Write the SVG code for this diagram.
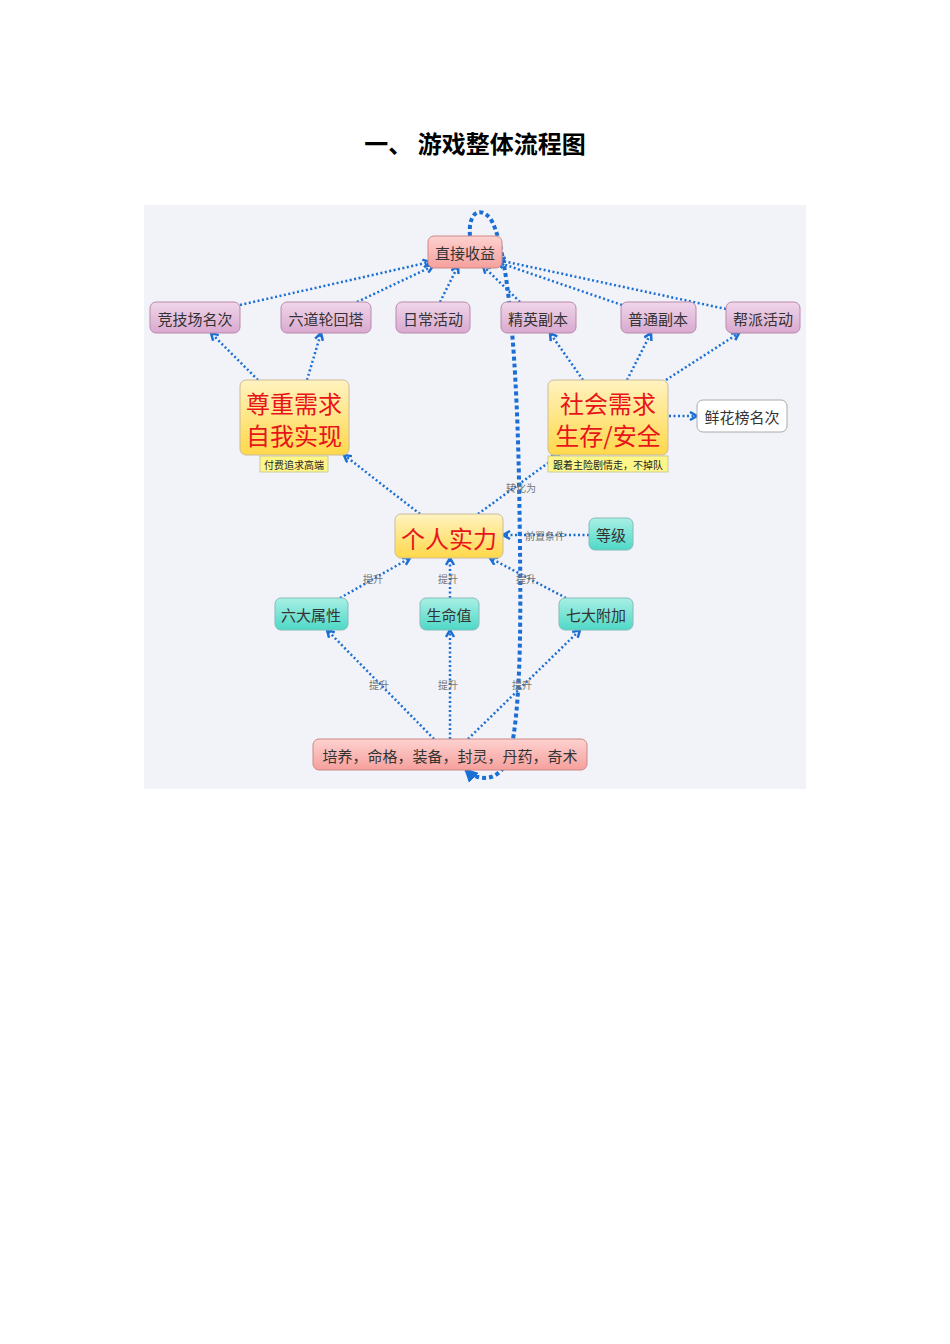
<svg xmlns="http://www.w3.org/2000/svg" width="950" height="1344" viewBox="0 0 950 1344">
<style>
text{font-family:"Noto Sans CJK SC","Noto Sans",sans-serif}
.n{stroke-width:1;rx:6}
.t{font-size:15px;fill:#333;text-anchor:middle;dominant-baseline:central}
.big{font-size:24px;fill:#e8141a;text-anchor:middle;dominant-baseline:central}
.lbl{font-size:10px;fill:#777;text-anchor:middle;dominant-baseline:central}
.note{font-size:10px;fill:#222;text-anchor:middle;dominant-baseline:central}
.e{fill:none;stroke:#1b6fd4;stroke-width:2.5;stroke-dasharray:2 2.5;marker-end:url(#ah)}
</style>
<defs>
<linearGradient id="pink" x1="0" y1="0" x2="0" y2="1"><stop offset="0" stop-color="#fdd2d0"/><stop offset="1" stop-color="#f6a09c"/></linearGradient>
<linearGradient id="purp" x1="0" y1="0" x2="0" y2="1"><stop offset="0" stop-color="#f0d6ea"/><stop offset="1" stop-color="#d8a9cf"/></linearGradient>
<linearGradient id="yel" x1="0" y1="0" x2="0" y2="1"><stop offset="0" stop-color="#fff3c0"/><stop offset="1" stop-color="#ffd84a"/></linearGradient>
<linearGradient id="teal" x1="0" y1="0" x2="0" y2="1"><stop offset="0" stop-color="#a8f0e4"/><stop offset="1" stop-color="#4fd8c6"/></linearGradient>
<marker id="ah" viewBox="0 0 10 10" refX="8" refY="5" markerWidth="4" markerHeight="4" orient="auto"><path d="M1,1 L8,5 L1,9" fill="none" stroke="#1b6fd4" stroke-width="2.5"/></marker>
<marker id="ahb" viewBox="0 0 10 10" refX="8" refY="5" markerWidth="3.5" markerHeight="3.5" orient="auto"><path d="M0,0 L10,5 L0,10 z" fill="#1b6fd4"/></marker>
</defs>
<rect width="950" height="1344" fill="#fff"/>
<text x="475" y="142" font-size="24" font-weight="bold" text-anchor="middle" dominant-baseline="central" fill="#000">一、   游戏整体流程图</text>
<rect x="144" y="205" width="662" height="584" fill="#f1f3f8"/>

<g id="connectors">
<path class="e" d="M240,305 L430,262"/>
<path class="e" d="M357,302 L433,266"/>
<path class="e" d="M440,302 L458,266"/>
<path class="e" d="M520,302 L483,266"/>
<path class="e" d="M622,305 L497,262"/>
<path class="e" d="M726,309 L498,260"/>
<path class="e" d="M258,380 L211,333"/>
<path class="e" d="M307,380 L321,333"/>
<path class="e" d="M583,380 L550,333"/>
<path class="e" d="M627,380 L651,333"/>
<path class="e" d="M666,380 L739,333"/>
<path class="e" d="M669,416 L697,416"/>
<path class="e" d="M420,514 L344,455"/>
<path class="e" d="M478,514 L559,455"/>
<path class="e" d="M589,535 L503,535"/>
<path class="e" d="M340,598 L410,558"/>
<path class="e" d="M450,598 L450,558"/>
<path class="e" d="M566,598 L490,558"/>
<path class="e" d="M434,739 L327,630"/>
<path class="e" d="M450,739 L450,630"/>
<path class="e" d="M468,739 L580,630"/>
<path d="M470,236 C468,215 478,205 490,218 C505,240 516,330 519,480 C521,600 522,690 512,745 C505,785 478,782 466,770" fill="none" stroke="#1b6fd4" stroke-width="4" stroke-dasharray="4 3" marker-end="url(#ahb)"/>
<text class="lbl" x="521" y="487">转化为</text>
<text class="lbl" x="545" y="535">前置条件</text>
<text class="lbl" x="373" y="578">提升</text>
<text class="lbl" x="448" y="578">提升</text>
<text class="lbl" x="526" y="578">提升</text>
<text class="lbl" x="379" y="684">提升</text>
<text class="lbl" x="448" y="684">提升</text>
<text class="lbl" x="522" y="684">提升</text>
</g>

<g id="n-direct"><rect class="n" x="428" y="236" width="74" height="32" fill="url(#pink)" stroke="#c88"/><text class="t" x="465" y="252">直接收益</text></g>
<g id="n-arena"><rect class="n" x="150" y="302" width="90" height="31" fill="url(#purp)" stroke="#b8a"/><text class="t" x="195" y="318">竞技场名次</text></g>
<g id="n-tower"><rect class="n" x="281" y="302" width="90" height="31" fill="url(#purp)" stroke="#b8a"/><text class="t" x="326" y="318">六道轮回塔</text></g>
<g id="n-daily"><rect class="n" x="396" y="302" width="74" height="31" fill="url(#purp)" stroke="#b8a"/><text class="t" x="433" y="318">日常活动</text></g>
<g id="n-elite"><rect class="n" x="501" y="302" width="75" height="31" fill="url(#purp)" stroke="#b8a"/><text class="t" x="538" y="318">精英副本</text></g>
<g id="n-normal"><rect class="n" x="621" y="302" width="75" height="31" fill="url(#purp)" stroke="#b8a"/><text class="t" x="658" y="318">普通副本</text></g>
<g id="n-guild"><rect class="n" x="726" y="302" width="74" height="31" fill="url(#purp)" stroke="#b8a"/><text class="t" x="763" y="318">帮派活动</text></g>
<g id="n-respect"><rect class="n" x="240" y="380" width="109" height="75" fill="url(#yel)" stroke="#cb9"/><text class="big" x="294" y="402">尊重需求</text><text class="big" x="294" y="434">自我实现</text>
<rect x="260" y="456" width="68" height="16" fill="#fff68a" stroke="#cc9"/><text class="note" x="294" y="464">付费追求高端</text></g>
<g id="n-social"><rect class="n" x="548" y="380" width="120" height="75" fill="url(#yel)" stroke="#cb9"/><text class="big" x="608" y="402">社会需求</text><text class="big" x="608" y="434">生存/安全</text>
<rect x="548" y="456" width="120" height="16" fill="#fff68a" stroke="#cc9"/><text class="note" x="608" y="464">跟着主险剧情走，不掉队</text></g>
<g id="n-flower"><rect class="n" x="697" y="400" width="90" height="32" fill="#fff" stroke="#aaa"/><text class="t" x="742" y="416">鲜花榜名次</text></g>
<g id="n-power"><rect class="n" x="395" y="514" width="108" height="44" fill="url(#yel)" stroke="#cb9"/><text class="big" x="449" y="537">个人实力</text></g>
<g id="n-level"><rect class="n" x="589" y="518" width="44" height="32" fill="url(#teal)" stroke="#8bb"/><text class="t" x="611" y="534">等级</text></g>
<g id="n-attr"><rect class="n" x="275" y="598" width="73" height="32" fill="url(#teal)" stroke="#8bb"/><text class="t" x="311" y="614">六大属性</text></g>
<g id="n-hp"><rect class="n" x="420" y="598" width="59" height="32" fill="url(#teal)" stroke="#8bb"/><text class="t" x="449" y="614">生命值</text></g>
<g id="n-extra"><rect class="n" x="559" y="598" width="74" height="32" fill="url(#teal)" stroke="#8bb"/><text class="t" x="596" y="614">七大附加</text></g>
<g id="n-train"><rect class="n" x="313" y="739" width="274" height="31" fill="url(#pink)" stroke="#c88"/><text class="t" x="450" y="755">培养，命格，装备，封灵，丹药，奇术</text></g>
</svg>
